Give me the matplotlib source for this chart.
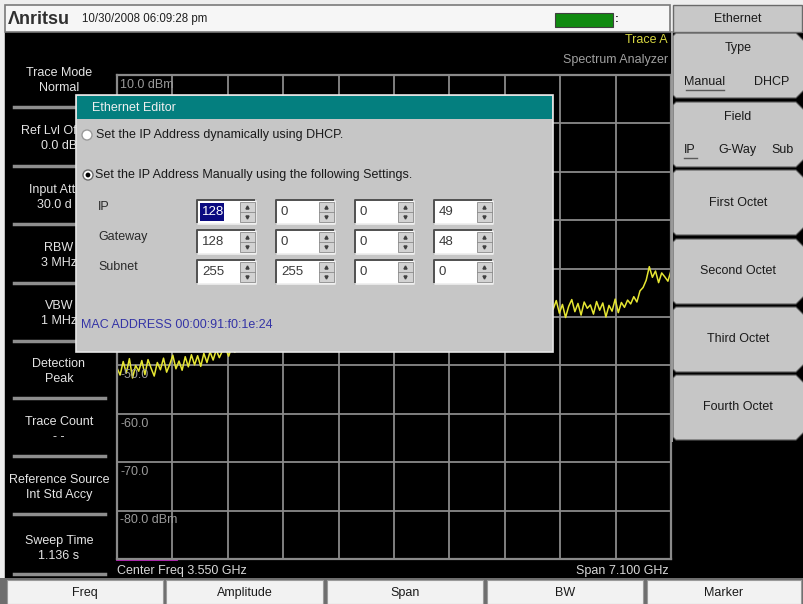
import numpy as np
import matplotlib
matplotlib.use("Agg")
import matplotlib.pyplot as plt
from matplotlib.patches import Rectangle, Polygon, Circle

plt.rcParams['font.family'] = ['Liberation Sans', 'DejaVu Sans']

# --- instrument settings ---
center_ghz = 3.550
span_ghz = 7.100
ref_level = 10.0
db_per_div = 10.0
n_div = 10
# graticule labels not covered by the dialog
label_levels = [10, -50, -60, -70, -80]

left_freq = np.linspace(0.0, 1.55, 40)
left_dbm = [-50.5, -52.0, -49.2, -51.6, -48.6, -52.6, -50.0, -51.2, -49.0, -51.9,
            -48.8, -50.6, -52.2, -49.4, -50.9, -48.5, -51.4, -49.8, -47.9, -50.7,
            -49.1, -51.0, -48.2, -50.3, -47.8, -49.9, -48.0, -50.2, -47.5, -49.4,
            -47.2, -48.9, -46.8, -48.4, -47.0, -46.5, -48.1, -46.2, -47.3, -45.8]
right_freq = np.linspace(5.55, 7.1, 40)
right_dbm = [-37.0, -38.4, -36.6, -39.2, -37.4, -40.1, -37.8, -36.4, -38.9, -37.2,
             -39.6, -36.9, -38.2, -37.5, -39.4, -36.8, -38.6, -37.1, -40.0, -37.6,
             -38.8, -36.3, -39.1, -37.0, -38.0, -36.5, -37.3, -35.8, -36.9, -34.6,
             -33.9, -32.4, -29.6, -31.8, -30.5, -32.9, -30.9, -31.7, -32.6, -30.4]
magenta_band = (0.0, 0.76)  # GHz, marker bar on the bottom line

# --- screen texts ---
left_titles = ["Trace Mode", "Ref Lvl Offset", "Input Atten", "RBW", "VBW",
               "Detection", "Trace Count", "Reference Source", "Sweep Time"]
left_values = ["Normal", "0.0 dB", "30.0 dB", "3 MHz", "1 MHz",
               "Peak", "- -", "Int Std Accy", "1.136 s"]
soft_keys = ["Type", "Field", "First Octet", "Second Octet", "Third Octet", "Fourth Octet"]
bottom_keys = ["Freq", "Amplitude", "Span", "BW", "Marker"]
row_names = ["IP", "Gateway", "Subnet"]
ip_octets = [128, 0, 0, 49]
gateway_octets = [128, 0, 0, 48]
subnet_octets = [255, 255, 0, 0]
mac_address = "00:00:91:f0:1e:24"

FS = 9
fig = plt.figure(figsize=(8.04, 6.04), dpi=100)
fig.patch.set_facecolor('#eeeeee')

# background layer
bg = fig.add_axes([0, 0, 1, 1], zorder=0)
bg.set_xlim(0, 804)
bg.set_ylim(604, 0)
bg.axis('off')
bg.add_patch(Rectangle((5, 32), 667, 547, color='black'))
bg.add_patch(Rectangle((670, 32), 134, 547, color='black'))

# spectrum display
ax = fig.add_axes([117 / 804, (604 - 559) / 604, 554 / 804, 484 / 604], zorder=1)
ax.set_facecolor('black')
f0, f1 = center_ghz - span_ghz / 2, center_ghz + span_ghz / 2
y0, y1 = ref_level - n_div * db_per_div, ref_level
ax.set_xlim(f0, f1)
ax.set_ylim(y0, y1)
ax.set_xticks(np.linspace(f0, f1, n_div + 1))
ax.set_yticks(np.linspace(y0, y1, n_div + 1))
ax.grid(True, color='#8a8a8a', lw=1.3)
ax.tick_params(length=0, labelbottom=False, labelleft=False)
for s in ax.spines.values():
    s.set_color('#8a8a8a')
    s.set_linewidth(1.6)
for lv in label_levels:
    txt = f"{lv:.1f}"
    if lv in (label_levels[0], label_levels[-1]):
        txt += " dBm"
    ax.text(f0 + 0.04, lv - 0.8, txt, color='#9a9a9a', fontsize=FS, va='top', ha='left')
ax.plot(left_freq, left_dbm, color='#e6e632', lw=1.1)
ax.plot(right_freq, right_dbm, color='#e6e632', lw=1.1)
ax.plot(magenta_band, [y0, y0], color='#c020c0', lw=2, clip_on=False)

# UI layer (pixel coordinates)
ui = fig.add_axes([0, 0, 1, 1], zorder=2)
ui.set_xlim(0, 804)
ui.set_ylim(604, 0)
ui.axis('off')
ui.patch.set_alpha(0)


def box(x, y, w, h, fc, ec='none', lw=1, z=2):
    ui.add_patch(Rectangle((x, y), w, h, facecolor=fc, edgecolor=ec, lw=lw, zorder=z))


# top status bar
box(5, 5, 665, 27, '#f6f6f6', '#7a7a7a', 1.2)
ui.text(8, 19, "Λnritsu", fontsize=13, fontweight='bold', color='#303030', va='center')
ui.text(82, 19, "10/30/2008 06:09:28 pm", fontsize=8.3, color='#202020', va='center')
box(555, 13, 58, 14, '#108a10', '#404040', 0.8)
ui.text(615, 19, ":", fontsize=8, fontweight='bold', color='#202020', va='center')
ui.text(668, 40, "Trace A", fontsize=FS, color='#d6d640', ha='right', va='center')
ui.text(668, 60, "Spectrum Analyzer", fontsize=FS, color='#a0a0a0', ha='right', va='center')
ui.text(117, 571, f"Center Freq {center_ghz:.3f} GHz", fontsize=FS, color='#d8d8d8', va='center')
ui.text(669, 571, f"Span {span_ghz:.3f} GHz", fontsize=FS, color='#d8d8d8', ha='right', va='center')

# left parameter panel
DLG_X0, DLG_Y0, DLG_X1, DLG_Y1 = 76, 95, 553, 352
title_y = [73, 131, 190, 248, 306, 364, 422, 480, 541]
sep_y = [107, 166, 224, 283, 341, 398, 456, 514, 574]
panel_texts = []
for t, v, ty in zip(left_titles, left_values, title_y):
    for s, yy in ((t, ty), (v, ty + 15)):
        tt = ui.text(59, yy, s, fontsize=FS, color='#e4e4e4', ha='center', va='center')
        if DLG_Y0 < yy < DLG_Y1:
            panel_texts.append(tt)
for sy in sep_y:
    ui.plot([14, 105], [sy, sy], color='#8e8e8e', lw=2.5)

# labels that run under the dialog: keep only the part left of its edge
fig.canvas.draw()
rend = fig.canvas.get_renderer()
panel_clip = Rectangle((0, 0), DLG_X0, 604, transform=ui.transData)
for tt in panel_texts:
    full = tt.get_text()
    bb = tt.get_window_extent(rend)
    if bb.x1 <= DLG_X0:
        continue
    tt.set_ha('left')
    tt.set_x(bb.x0)
    for n in range(len(full), 0, -1):
        tt.set_text(full[:n].rstrip())
        if tt.get_window_extent(rend).x1 <= DLG_X0 + 4:
            break
    tt.set_clip_path(panel_clip)

# right soft-key panel
box(671, 32, 2.5, 410, '#9a9a9a')
box(673, 5, 129, 27, '#c8c8c8', '#6a6a6a', 1.0)
ui.text(738, 19, "Ethernet", fontsize=FS, color='#1a1a1a', ha='center', va='center')
key_tops = [33, 102, 170, 239, 307, 375]
key_h = 65
for name, kt in zip(soft_keys, key_tops):
    kb = kt + key_h
    pts = [(673, kt + 3), (676, kt), (796, kt), (804, kt + 8), (804, kb - 8),
           (796, kb), (676, kb), (673, kb - 3)]
    ui.add_patch(Polygon(pts, closed=True, facecolor='#c6c6c6', edgecolor='#5a5a5a', lw=0.8))
    if name in ("Type", "Field"):
        ui.text(738, kt + 15, name, fontsize=FS, color='#1a1a1a', ha='center', va='center')
    else:
        ui.text(738, kt + key_h / 2, name, fontsize=FS, color='#1a1a1a', ha='center', va='center')
ui.text(705, 82, "Manual", fontsize=FS, color='#1a1a1a', ha='center', va='center')
ui.plot([686, 724], [90, 90], color='#5a5a5a', lw=1)
ui.text(772, 82, "DHCP", fontsize=FS, color='#1a1a1a', ha='center', va='center')
ui.text(690, 150, "IP", fontsize=FS, color='#1a1a1a', ha='center', va='center')
ui.plot([684, 697], [158, 158], color='#5a5a5a', lw=1)
ui.text(737, 150, "G-Way", fontsize=FS, color='#1a1a1a', ha='center', va='center')
ui.text(783, 150, "Sub", fontsize=FS, color='#1a1a1a', ha='center', va='center')

# bottom key bar
box(0, 578, 804, 26, '#6e6e6e')
key_x = [(7, 163), (166, 323), (327, 483), (487, 643), (647, 801)]
for name, (xa, xb) in zip(bottom_keys, key_x):
    box(xa, 580, xb - xa, 24, '#f2f2f2', '#9a9a9a', 0.8)
    ui.text((xa + xb) / 2, 593, name, fontsize=FS, color='#1a1a1a', ha='center', va='center')

# Ethernet Editor dialog
DZ = 5
box(DLG_X0, DLG_Y0, DLG_X1 - DLG_X0, DLG_Y1 - DLG_Y0, '#c6c6c6', '#e6e6e6', 1.2, z=DZ)
box(DLG_X0 + 1, DLG_Y0 + 1, DLG_X1 - DLG_X0 - 2, 23, '#047f7f', z=DZ)
ui.text(92, 108, "Ethernet Editor", fontsize=FS, color='#f0f0f0', va='center', zorder=DZ)
ui.add_patch(Circle((87, 135), 5, facecolor='white', edgecolor='#9a9a9a', lw=1, zorder=DZ))
ui.text(96, 135, "Set the IP Address dynamically using DHCP.", fontsize=FS, color='#1a1a1a',
        va='center', zorder=DZ)
ui.add_patch(Circle((88, 175), 5, facecolor='white', edgecolor='#6a6a6a', lw=1, zorder=DZ))
ui.add_patch(Circle((88, 175), 2.4, facecolor='black', zorder=DZ))
ui.text(95, 175, "Set the IP Address Manually using the following Settings.", fontsize=FS,
        color='#1a1a1a', va='center', zorder=DZ)

col_x = [197, 276, 355, 434]
row_y = [200, 230, 260]
for name, ry, octets in zip(row_names, row_y, [ip_octets, gateway_octets, subnet_octets]):
    ui.text(98, ry + 7, name, fontsize=FS, color='#2a2a2a', va='center', zorder=DZ)
    for j, (cx, val) in enumerate(zip(col_x, octets)):
        box(cx, ry, 59, 24, 'white', z=DZ)
        ui.plot([cx, cx, cx + 59], [ry + 24, ry, ry], color='#505050', lw=1.4, zorder=DZ)
        ui.plot([cx, cx + 59, cx + 59], [ry + 24, ry + 24, ry], color='#eeeeee', lw=1.2, zorder=DZ)
        box(cx + 43, ry + 2, 15, 20, '#d2d2d2', '#8a8a8a', 0.6, z=DZ)
        ui.plot([cx + 43, cx + 58], [ry + 12, ry + 12], color='#8a8a8a', lw=0.6, zorder=DZ)
        ui.plot(cx + 50.5, ry + 7, marker='^', ms=2.2, color='#404040', zorder=DZ)
        ui.plot(cx + 50.5, ry + 17, marker='v', ms=2.2, color='#404040', zorder=DZ)
        if name == "IP" and j == 0:
            box(cx + 3, ry + 3, 24, 18, '#0a0a80', z=DZ)
            ui.text(cx + 5, ry + 12, str(val), fontsize=9.5, color='white', va='center', zorder=DZ)
        else:
            ui.text(cx + 5, ry + 12, str(val), fontsize=9.5, color='#3a3a3a', va='center', zorder=DZ)

ui.text(81, 325, f"MAC ADDRESS {mac_address}", fontsize=FS, color='#3434a6', va='center', zorder=DZ)

fig.savefig("out.png", dpi=100, facecolor=fig.get_facecolor())
